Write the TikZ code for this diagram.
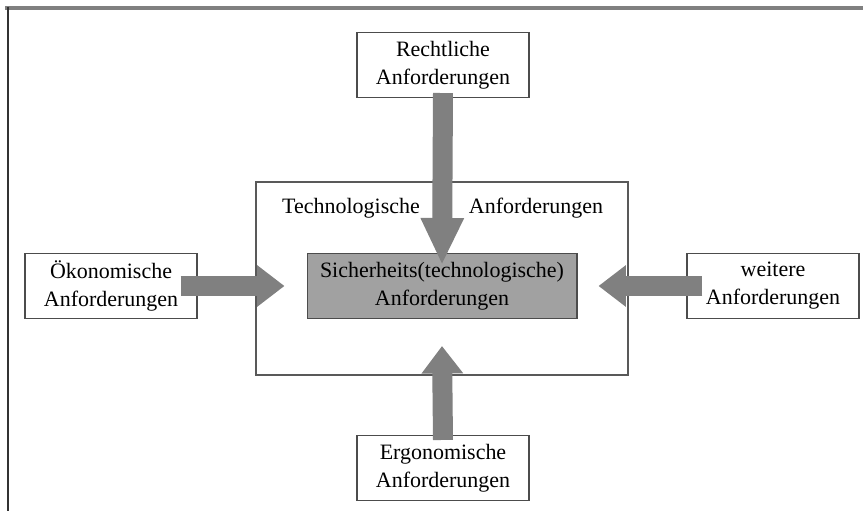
\documentclass[tikz,border=0pt]{standalone}
\usepackage{fontspec}
\setmainfont{Liberation Serif}
\usetikzlibrary{arrows.meta}
\tikzset{
  reqbox/.style={draw=black!70, line width=0.6pt, fill=white, align=center,
    minimum width=3.44cm, minimum height=1.3cm, inner sep=0pt,
    font=\fontsize{12.5}{15.9}\selectfont},
  corebox/.style={reqbox, fill=black!37, minimum width=5.4cm},
  fatarrow/.style={draw=black!50, line width=0.4cm,
    -{Triangle[length=#1, width=0.8cm]}},
  fatarrow/.default=0.55cm
}
\begin{document}
\begin{tikzpicture}[x=0.02cm, y=-0.02cm]
  \useasboundingbox (0,0) rectangle (863,513);
  % frame
  \draw[black!50, line width=1.8pt] (5,8) -- (863,8);
  \draw[black!80, line width=1.3pt] (8,7) -- (8,511);
  % boxes
  \draw[black!65, line width=0.6pt] (256,182) rectangle (628,375);
  \node[font=\fontsize{12.5}{15.9}\selectfont] (tech) at (351,208) {Technologische};
  \node[font=\fontsize{12.5}{15.9}\selectfont] (techb) at (536,208) {Anforderungen};
  \node[corebox] (sich) at (442,286) {Sicherheits(technologische)\\Anforderungen};
  \node[reqbox] (recht) at (443,65) {Rechtliche\\Anforderungen};
  \node[reqbox] (oeko) at (111,286) {Ökonomische\\Anforderungen};
  \node[reqbox] (weit) at (773,286) {weitere\\Anforderungen};
  \node[reqbox] (ergo) at (443,468) {Ergonomische\\Anforderungen};
  % arrows
  \draw[fatarrow=0.94cm] ([yshift=0.1cm]recht.south) -- ([yshift=-0.24cm]sich.north);
  \draw[fatarrow] ([yshift=-0.1cm]ergo.north) -- ([yshift=-0.54cm]sich.south);
  \draw[fatarrow] ([xshift=-0.34cm]oeko.east) -- ([xshift=-0.44cm]sich.west);
  \draw[fatarrow] ([xshift=0.32cm]weit.west) -- ([xshift=0.42cm]sich.east);
\end{tikzpicture}
\end{document}
